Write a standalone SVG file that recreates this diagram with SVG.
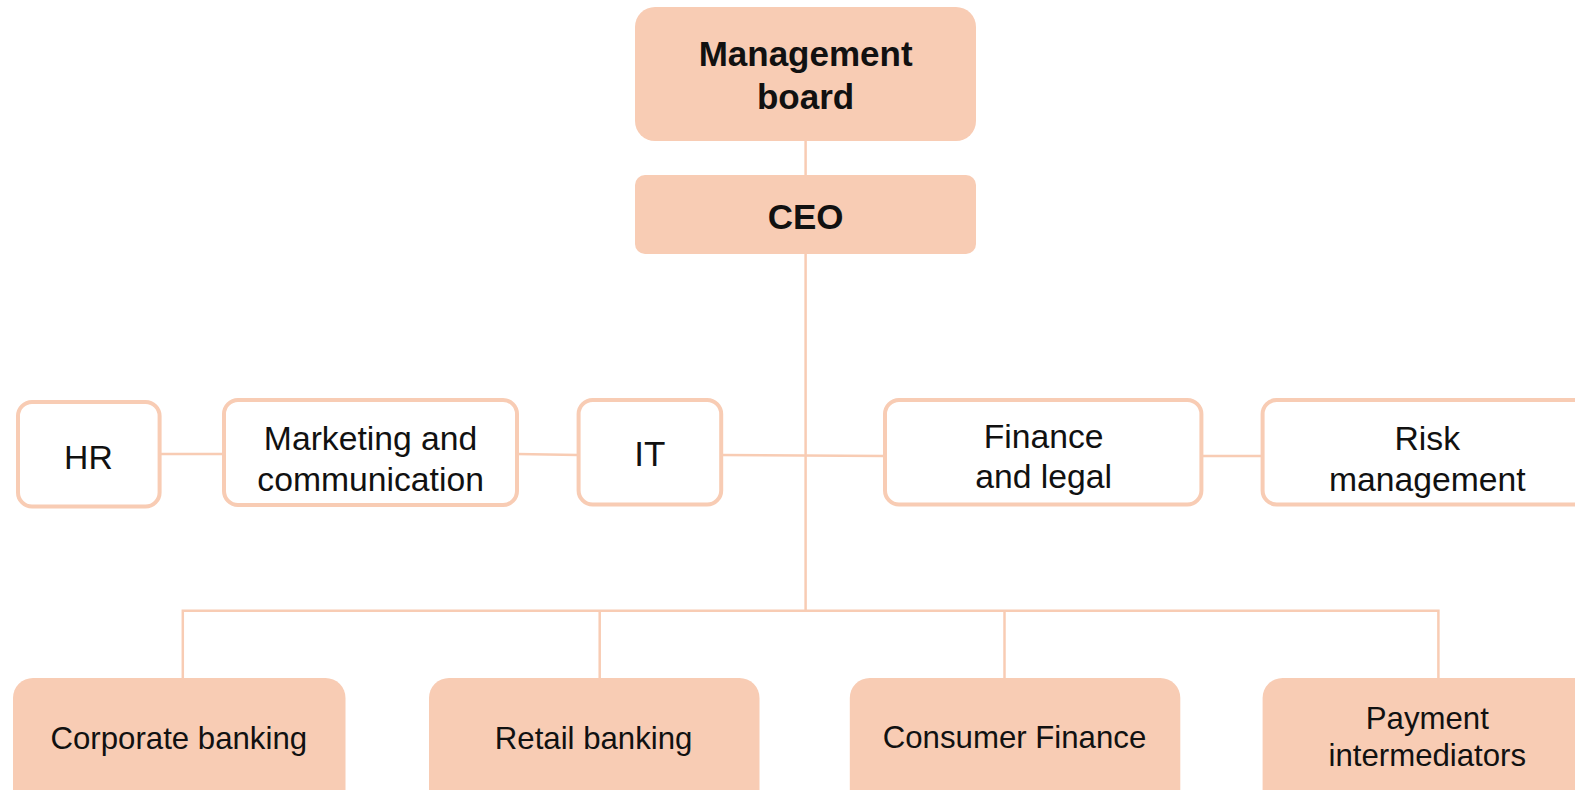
<svg xmlns="http://www.w3.org/2000/svg" width="1575" height="790" viewBox="0 0 1575 790">
<style>
.fill{fill:#F8CCB4}
.out{fill:#FFFFFF;stroke:#F8CCB4;stroke-width:4}
.ln{stroke:#F8CCB4;stroke-width:2.5;fill:none}
text{font-family:"Liberation Sans",Arial,sans-serif;fill:#111;text-anchor:middle}
.b{font-weight:bold;font-size:35px}
.m{font-size:33.7px}
.s{font-size:31.2px}
</style>
<rect width="1575" height="790" fill="#FFFFFF"/>
<g id="connectors">
<line class="ln" x1="805.6" y1="140" x2="805.6" y2="175"/>
<line class="ln" x1="805.6" y1="254" x2="805.6" y2="610.7"/>
<line class="ln" x1="160" y1="454" x2="224" y2="454"/>
<line class="ln" x1="517" y1="454" x2="578" y2="455"/>
<line class="ln" x1="722" y1="455" x2="885" y2="456"/>
<line class="ln" x1="1202" y1="456" x2="1262" y2="456"/>
<polyline class="ln" points="182.8,678 182.8,610.7 1438.4,610.7 1438.4,678"/>
<line class="ln" x1="599.7" y1="610.7" x2="599.7" y2="678"/>
<line class="ln" x1="1004.5" y1="610.7" x2="1004.5" y2="678"/>
</g>
<g id="management-board">
<rect class="fill" x="635" y="7" width="341" height="134" rx="20"/>
<text class="b" x="805.6" y="65.5">Management</text>
<text class="b" x="805.6" y="108.5">board</text>
</g>
<g id="ceo">
<rect class="fill" x="635" y="175" width="341" height="79" rx="10"/>
<text class="b" x="805.6" y="229">CEO</text>
</g>
<g id="hr">
<rect class="out" x="18" y="402" width="141.6" height="104.5" rx="14"/>
<text class="m" x="88.4" y="469">HR</text>
</g>
<g id="marketing">
<rect class="out" x="224" y="400" width="293" height="105" rx="14"/>
<text class="m" x="370.6" y="450">Marketing and</text>
<text class="m" x="370.6" y="491">communication</text>
</g>
<g id="it">
<rect class="out" x="578.6" y="400" width="142.6" height="104.5" rx="14"/>
<text class="m" x="649.9" y="466" style="font-size:35px">IT</text>
</g>
<g id="finance">
<rect class="out" x="885" y="400" width="316.4" height="104.5" rx="14"/>
<text class="m" x="1043.6" y="448">Finance</text>
<text class="m" x="1043.6" y="488">and legal</text>
</g>
<g id="risk">
<rect class="out" x="1262.6" y="400" width="340" height="104.5" rx="14"/>
<text class="m" x="1427.3" y="450">Risk</text>
<text class="m" x="1427.3" y="491">management</text>
</g>
<g id="corporate">
<rect class="fill" x="13" y="678" width="332.5" height="140" rx="20"/>
<text class="s" x="178.8" y="749">Corporate banking</text>
</g>
<g id="retail">
<rect class="fill" x="429" y="678" width="330.5" height="140" rx="20"/>
<text class="s" x="593.6" y="749">Retail banking</text>
</g>
<g id="consumer">
<rect class="fill" x="849.8" y="678" width="330.5" height="140" rx="20"/>
<text class="s" x="1014.5" y="748">Consumer Finance</text>
</g>
<g id="payment">
<rect class="fill" x="1262.6" y="678" width="340" height="140" rx="20"/>
<text class="s" x="1427.3" y="729">Payment</text>
<text class="s" x="1427.3" y="766">intermediators</text>
</g>
</svg>
